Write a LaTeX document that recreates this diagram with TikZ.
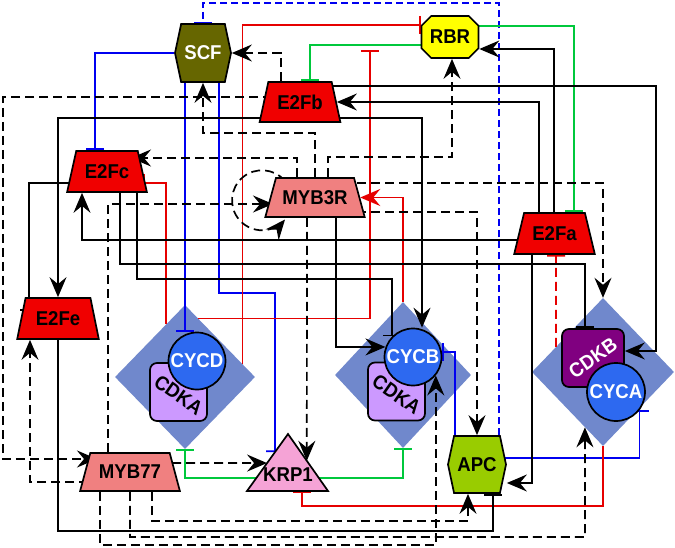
\documentclass[tikz,border=0pt]{standalone}
\usepackage{fontspec}
\newfontfamily\nodefont[FakeStretch=0.93]{Liberation Sans}
\usetikzlibrary{shapes.geometric,shapes.symbols,shapes.misc,arrows.meta,calc}
\pgfdeclarelayer{back}
\pgfdeclarelayer{front}
\pgfsetlayers{back,main,front}
\definecolor{e2fred}{RGB}{240,0,0}
\definecolor{mybred}{RGB}{240,128,128}
\definecolor{scfol}{RGB}{102,102,0}
\definecolor{rbryel}{RGB}{255,255,0}
\definecolor{apcgr}{RGB}{153,204,0}
\definecolor{krppk}{RGB}{245,163,214}
\definecolor{cplxbl}{RGB}{112,136,204}
\definecolor{cycbl}{RGB}{45,105,240}
\definecolor{cdkalv}{RGB}{204,153,255}
\definecolor{cdkbpu}{RGB}{128,0,128}
\definecolor{inhred}{RGB}{230,0,0}
\definecolor{inhgr}{RGB}{0,200,60}
\definecolor{inhbl}{RGB}{0,0,240}
\begin{document}
\begin{tikzpicture}[x=1pt, y=-1pt,
    font={\nodefont\bfseries\fontsize{20pt}{20pt}\selectfont}]
    \tikzstyle{act}=[-{Stealth[length=20pt,width=17pt,inset=7pt]}, line width=1.7pt]
    \tikzstyle{inh}=[-{Bar[width=18pt]}, line width=1.7pt]
    \tikzstyle{dsh}=[dash pattern=on 9pt off 5pt]
    \tikzstyle{tf}=[trapezium, trapezium stretches=true, draw, line width=1.7pt, inner sep=0pt]
    \tikzstyle{hex}=[signal, signal to=west and east, signal pointer angle=156, draw, line width=1.7pt, inner sep=0pt, minimum width=57pt, minimum height=58pt]
    \tikzstyle{cyc}=[circle, draw, fill=cycbl, text=white, minimum size=57pt, inner sep=0pt, line width=1.7pt]
    \tikzstyle{cdk}=[rectangle, rounded corners=7pt, draw, minimum width=57pt, minimum height=58pt, line width=1.7pt]
    \tikzstyle{cplx}=[diamond, fill=cplxbl, inner sep=0pt]
    \useasboundingbox (0,0) rectangle (675,548);
    \begin{pgfonlayer}{back}
    \fill[white] (0,0) rectangle (675,548);
    \node[cplx, minimum width=140pt, minimum height=144pt] (dcycd) at (185,377) {};
    \node[cplx, minimum width=136pt, minimum height=146pt] (dcycb) at (403,375) {};
    \node[cplx, minimum width=142pt, minimum height=148pt] (dcyca) at (603,372) {};
    \end{pgfonlayer}
    \begin{pgfonlayer}{front}
    \node[hex, fill=scfol, text=white, minimum width=56pt] (scf) at (203,53) {SCF};
    \node[chamfered rectangle, chamfered rectangle xsep=10pt, draw, fill=rbryel, minimum width=57pt, minimum height=42pt, inner sep=0pt, line width=1.7pt] (rbr) at (450,37) {RBR};
    \node[tf, fill=e2fred, trapezium angle=67, minimum width=81pt, minimum height=40pt] (e2fb) at (300,102) {E2Fb};
    \node[tf, fill=e2fred, trapezium angle=65, minimum width=80pt, minimum height=41pt] (e2fc) at (107,171.5) {E2Fc};
    \node[tf, fill=mybred, trapezium angle=58, minimum width=100pt, minimum height=39pt] (myb3r) at (315,197.5) {MYB3R};
    \node[tf, fill=e2fred, trapezium angle=63, minimum width=81pt, minimum height=41pt] (e2fa) at (554.5,233.5) {E2Fa};
    \node[tf, fill=e2fred, trapezium angle=68, minimum width=82pt, minimum height=41pt] (e2fe) at (58,318.5) {E2Fe};
    \node[tf, fill=mybred, trapezium angle=60, minimum width=100pt, minimum height=38pt] (myb77) at (130,472) {MYB77};
    \draw[fill=krppk, line width=1.7pt] (247,491) coordinate (krp1-l) -- (288,434) coordinate (krp1-t) -- (328,491) coordinate (krp1-r) -- cycle;
    \node (krp1) at (288,475) {KRP1};
    \node[hex, fill=apcgr, minimum width=58pt, minimum height=57pt] (apc) at (477,464.5) {APC};
    \node[cdk, fill=cdkalv] (cdka1) at (178.5,392) {};
    \node[rotate=-35] at ([yshift=-3pt]cdka1.center) {CDKA};
    \node[cyc] (cycd) at (197,361) {CYCD};
    \node[cdk, fill=cdkalv] (cdka2) at (396.5,391.5) {};
    \node[rotate=-35] at ([yshift=-3pt]cdka2.center) {CDKA};
    \node[cyc] (cycb) at (413,357) {CYCB};
    \node[cdk, fill=cdkbpu, minimum width=62pt] (cdkb) at (593,358) {};
    \node[rotate=35, text=white] at (cdkb) {CDKB};
    \node[cyc, minimum size=58pt] (cyca) at (616,392) {CYCA};
    \end{pgfonlayer}
    \coordinate (rbrbar) at (370,50);
    \coordinate (jm) at (336,240);
    \draw[inh, inhbl, dash pattern=on 7pt off 4pt, line width=1.4pt] (apc.north -| 499,0) |- (203,3) -- (scf.north);
    \draw[inh, inhbl] (scf.west) -| (e2fc.north -| 95,0);
    \draw[inh, inhbl] (scf.south -| 185,0) -- (cycd.north -| 185,0);
    \draw[inh, inhbl] (scf.south -| 219,0) |- (275,293) -- ($(krp1-t)!0.317!(krp1-l)$);
    \draw[inh, inhbl] (apc.north -| 455,0) |- (cycb.east |- 0,352);
    \draw[inh, inhbl] (apc.center |- 0,458) -| (cyca.-38);
    \draw[inh, inhred] ($(dcycd.north)!0.82!(dcycd.east)$) |- (rbr.west |- 0,25);
    \draw[inh, inhred] ($(dcycd.north)!0.27!(dcycd.west)$) |- ([xshift=36pt,yshift=-11.5pt]e2fc.center);
    \draw[inh, inhred] ($(dcycd.north)!0.19!(dcycd.east)$) -| (rbrbar);
    \draw[act, inhred] (dcycb.north) |- (myb3r.east);
    \draw[inh, inhred] (dcyca.south) |- (302,506) -- (krp1-l -| 302,0);
    \draw[inh, inhred, dsh] ($(dcyca.north)!0.66!(dcyca.west)$) -- (e2fa.south -| 556,0);
    \draw[inh, inhgr] (rbr.center |- 0,45) -| (e2fb.north -| 310,0);
    \draw[inh, inhgr] (rbr.center |- 0,26) -| (e2fa.north -| 574,0);
    \draw[inh, inhgr] ($(krp1-t)!0.77!(krp1-l)$) -| (dcycd.south);
    \draw[inh, inhgr] ($(krp1-t)!0.77!(krp1-r)$) -| (dcycb.south);
    \draw[act] (e2fa.north -| 554,0) |- (rbr.east |- 0,49);
    \draw[act] (e2fa.north -| 539,0) |- (e2fb.east);
    \draw[act] (e2fb.center |- 0,86) -| (656,351) -- (cdkb.east |- 0,351);
    \draw[act] (e2fb.center |- 0,118) -| (e2fe.north);
    \draw[act] (e2fb.center |- 0,118) -| (cycb.north -| 422,0);
    \draw[inh] (e2fc.center |- 0,183) -| ([xshift=-29pt,yshift=8pt]e2fe.center);
    \draw[inh] (e2fe.south) |- (493,531) -- (apc.south -| 493,0);
    \draw[inh] (e2fc.south -| 137,0) |- (cycb.135 |- 0,279) -- (cycb.135);
    \draw[inh] (e2fc.south -| 120,0) |- (585,264) -- (cdkb.north -| 585,0);
    \draw[act] (myb3r.south -| 336,0) -- (jm) -| (e2fc.south -| 82,0);
    \draw[inh] (jm) -- ([xshift=-33pt,yshift=-6.5pt]e2fa.center);
    \draw[act] (myb3r.south -| 336,0) |- (cycb.160);
    \draw[act] (e2fa.south -| 532,0) |- (apc.east |- 0,483);
    \draw[act, dsh] (e2fb.north -| 281,0) |- (scf.east);
    \draw[act, dsh] (e2fb.center |- 0,97) -| (3,459) -- ([xshift=-33pt,yshift=13pt]myb77.center);
    \draw[act, dsh] (myb3r.north -| 315,0) |- (203,133) -- (scf.south);
    \draw[act, dsh] (myb3r.north -| 297,0) |- ([xshift=24pt,yshift=13.5pt]e2fc.center);
    \draw[act, dsh] (myb3r.north -| 328,0) |- (452,157) -- (rbr.south -| 452,0);
    \draw[act, dsh] (myb3r.center |- 0,183) -| (dcyca.north);
    \draw[act, dsh] (myb3r.center |- 0,212) -| (apc.north -| 477,0);
    \draw[act, dsh] (myb3r.south -| 307,0) -- ($(krp1-t)!0.47!(krp1-r)$);
    \draw[act, dsh] ([xshift=-30pt,yshift=16.5pt]myb3r.center) arc[start angle=-40, end angle=-320, radius=30];
    \draw[act, dsh] (myb77.center |- 0,463) -- ($(krp1-t)!0.51!(krp1-l)$);
    \draw[act, dsh] (myb77.center |- 0,482) -| (e2fe.south -| 30,0);
    \draw[act, dsh] (myb77.north -| 108,0) |- ([xshift=-42pt,yshift=-6.5pt]myb3r.center);
    \draw[act, dsh] (myb77.south -| 100,0) |- (cycb.-39 |- 0,545) -- (cycb.-39);
    \draw[act, dsh] (myb77.south -| 130,0) |- (585,537) -- ($(dcyca.west)!0.746!(dcyca.south)$);
    \draw[act, dsh] (myb77.south -| 152,0) |- (468,521) -- (apc.south -| 468,0);
\end{tikzpicture}
\end{document}
